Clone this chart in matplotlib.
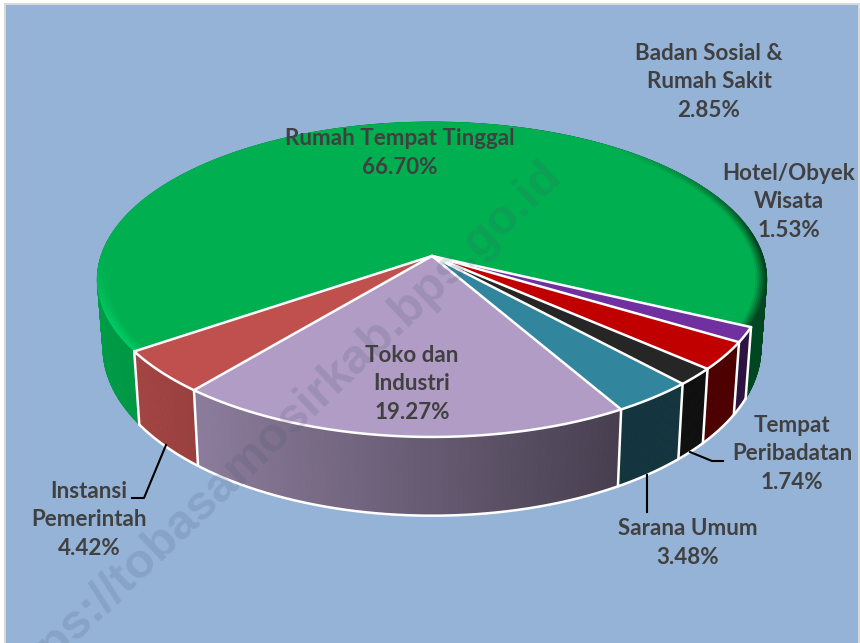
import numpy as np
import matplotlib
matplotlib.use('Agg')
import matplotlib.pyplot as plt
from matplotlib.patches import Rectangle

# slices, clockwise from the purple / green boundary
labels = ['Hotel/Obyek\nWisata', 'Badan Sosial &\nRumah Sakit', 'Tempat\nPeribadatan', 'Sarana Umum',
          'Toko dan\nIndustri', 'Instansi\nPemerintah', 'Rumah Tempat Tinggal']
values = [1.53, 2.85, 1.74, 3.48, 19.27, 4.42, 66.70]
colors = ['#7030A0', '#C00000', '#262626', '#31859C', '#B09CC4', '#C0504D', '#00B050']
label_pos = [(789, 202), (709, 82), (792, 454), (688, 543), (412, 384), (89, 520), (400, 153)]

leaders = [[(132, 498), (144, 498), (166, 445)],
           [(723, 461), (712, 461), (690, 452)],
           [(647, 475), (647, 512)]]

start_angle = -25.6
cx, cy = 432, 256
a, b, k = 331, 154, 0.149
depth = 67
shrink = 0.983
text_color = '#404040'


def top_xy(theta, r=1.0):
    # perspective view of a point on the pie's top face
    x = r*np.cos(theta)
    y = r*np.sin(theta)
    w = 1+k*y
    return cx+a*x/w, cy-b*y/w


def bottom_xy(theta):
    X, Y = top_xy(theta)
    w = 1+k*np.sin(theta)
    return cx+(X-cx)*shrink, Y+depth/w


def shade(x):
    return np.clip(0.8-(x-192)*0.00093, 0.4, 0.88)


def mix(c1, c2, t):
    return tuple(np.array(c1)*(1-t)+np.array(c2)*t)


fig = plt.figure(figsize=(8.6, 6.43), dpi=100, facecolor='white')
ax = fig.add_axes([0, 0, 1, 1])
ax.set_xlim(0, 860)
ax.set_ylim(643, 0)
ax.axis('off')
ax.add_patch(Rectangle((5, 4), 854, 645, fc='#95B3D7', ec='#D9D9D9', lw=1.5))

# slice edges in radians, going clockwise
edges = np.radians(start_angle-np.cumsum([0]+values)*3.6)

# side wall, drawn far to near
strips = []
for i in range(len(values)):
    th = np.linspace(edges[i], edges[i+1], max(int(values[i]*8), 3)+1)
    rgb = matplotlib.colors.to_rgb(colors[i])
    for t0, t1 in zip(th[:-1], th[1:]):
        strips.append((np.sin((t0+t1)/2), t0, t1, rgb))
strips.sort(key=lambda s: -s[0])
for _, t0, t1, rgb in strips:
    p0, p1 = top_xy(t0), top_xy(t1)
    q0, q1 = bottom_xy(t0), bottom_xy(t1)
    f = shade((p0[0]+p1[0])/2)
    col = tuple(c*f for c in rgb)
    ax.fill([p0[0], p1[0], q1[0], q0[0]], [p0[1], p1[1], q1[1], q0[1]], color=col, lw=0.6, zorder=2)

# top faces
for i in range(len(values)):
    th = np.linspace(edges[i], edges[i+1], max(int(values[i]*8), 8))
    X, Y = top_xy(th)
    ax.fill(np.r_[cx, X], np.r_[cy, Y], color=colors[i], lw=0, zorder=3)

# soft bevel on the green rim: light low on the left, dark on the right
green = matplotlib.colors.to_rgb(colors[-1])
th = np.linspace(edges[-2], edges[-1], 500)
for r0, r1, amt in zip(np.linspace(0.968, 0.995, 6), np.linspace(0.973, 1.0, 6), np.linspace(0.12, 1, 6)):
    for t0, t1 in zip(th[:-1], th[1:]):
        x0, y0 = top_xy(t0, r0)
        x1, y1 = top_xy(t1, r0)
        x2, y2 = top_xy(t1, r1)
        x3, y3 = top_xy(t0, r1)
        u = (x0-98)/670
        s = np.sin(t0)
        if u < 0.5:
            edge = mix((0, 0.80, 0.39), green, min(1, max(0, (s+0.4)/0.35)))
        else:
            edge = mix((0, 0.25, 0.12), green, min(1, max(0, (s-0.1)/0.7)))
        col = mix(green, edge, amt)
        ax.fill([x0, x1, x2, x3], [y0, y1, y2, y3], color=col, lw=0.3, zorder=3.2)

# white outlines
white = dict(color='white', lw=1.8, solid_capstyle='round', solid_joinstyle='round', zorder=4)
for t in edges[:-1]:
    X, Y = top_xy(t)
    ax.plot([cx, X], [cy, Y], **white)
    Xb, Yb = bottom_xy(t)
    ax.plot([X, Xb], [Y, Yb], **white)
th = np.linspace(edges[0], edges[-2], 300)
ax.plot(*top_xy(th), **white)
ax.plot(*bottom_xy(th), **white)

# watermark
ax.text(539, 152, 'https://tobasamosirkab.bps.go.id', rotation=43.5, rotation_mode='anchor',
        ha='right', va='top', fontsize=35, fontweight='bold', family='Liberation Sans',
        color='#44546A', alpha=0.17, zorder=5)

for pts in leaders:
    ax.plot([p[0] for p in pts], [p[1] for p in pts], color='black', lw=1.5, zorder=6)

for lab, val, pos in zip(labels, values, label_pos):
    ax.text(pos[0], pos[1], f'{lab}\n{val:.2f}%', ha='center', va='center', ma='center',
            fontsize=16.1, fontweight='bold', family='Lato', color=text_color, linespacing=1.46, zorder=7)

plt.savefig('out.png', dpi=100)
